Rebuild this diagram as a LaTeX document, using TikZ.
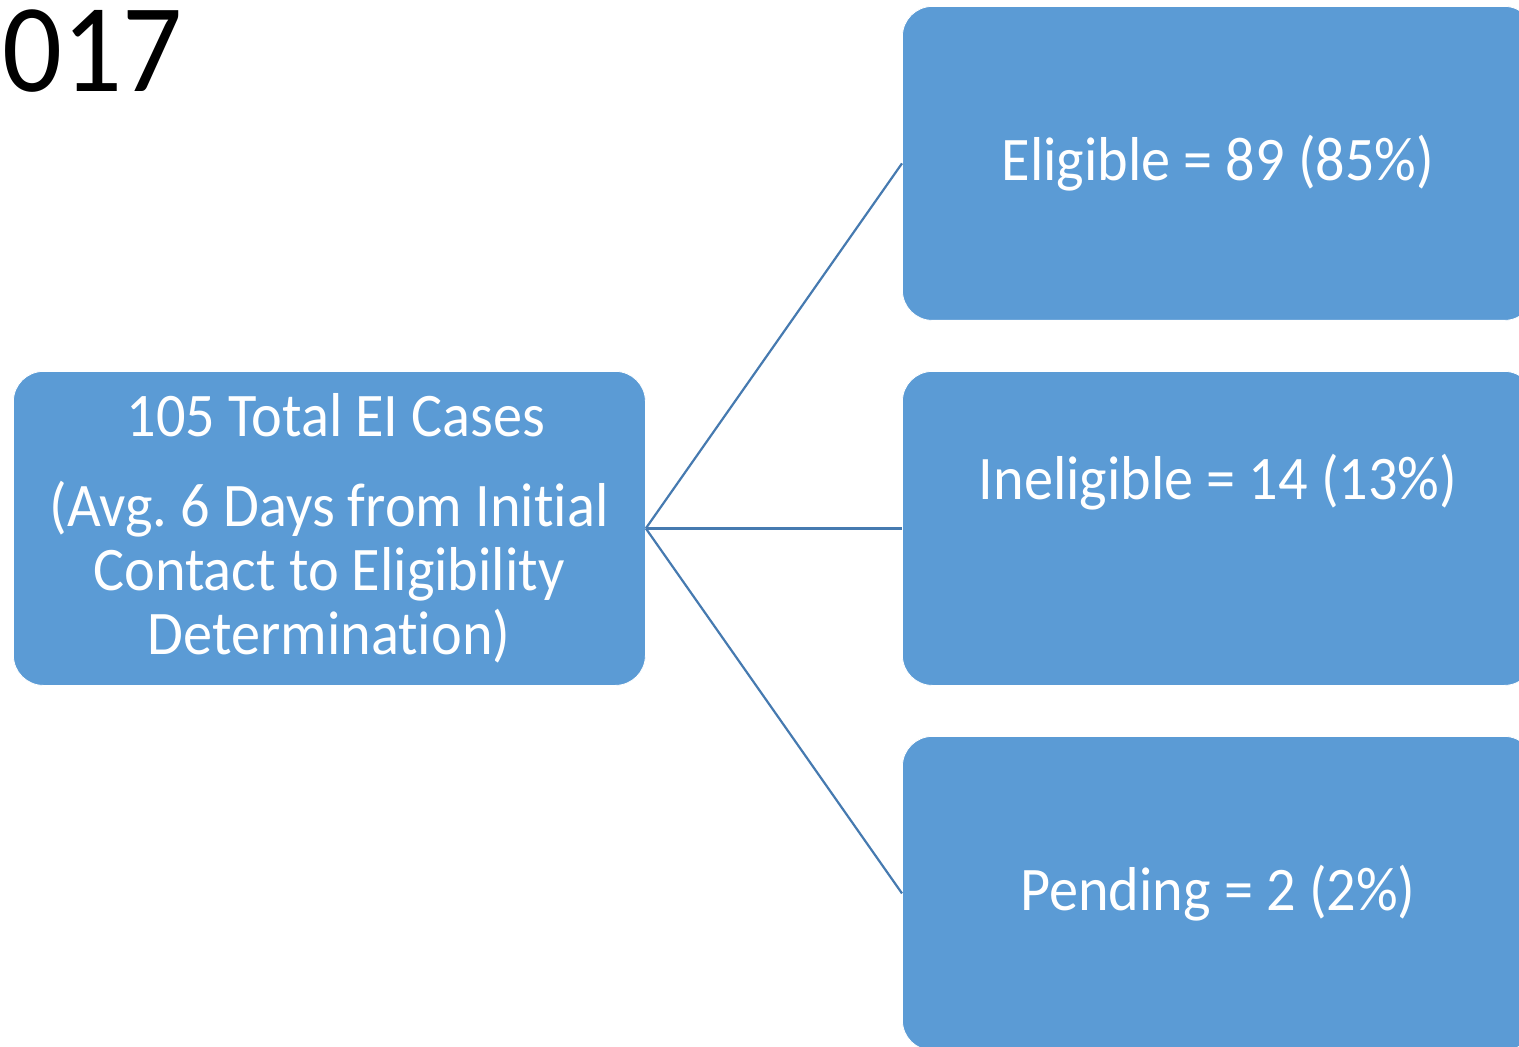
\documentclass[tikz,border=0pt]{standalone}
\usepackage{fontspec}
\setmainfont{Carlito}[FakeStretch=0.94, Ligatures=NoCommon]
\usetikzlibrary{positioning}
\definecolor{boxblue}{RGB}{91,155,213}
\definecolor{linkblue}{RGB}{70,122,176}
\tikzset{
  casebox/.style={draw=white, line width=0.4pt, fill=boxblue, rounded corners=15pt,
    minimum width=316pt, minimum height=157pt, inner sep=0pt, anchor=north west},
  boxtext/.style={text=white, font=\fontsize{31}{32}\selectfont, align=center, inner sep=0pt},
  link/.style={draw=linkblue, line width=1.1pt}
}
\begin{document}
\frenchspacing
\begin{tikzpicture}[x=0.5pt, y=-0.5pt]
  \useasboundingbox (0,0) rectangle (1519,1047);
  \node[anchor=base west, inner sep=0pt, font=\fontsize{63}{63}\selectfont] (year) at (2,92) {017};
  % boxes
  \node[casebox] (total) at (13,371) {};
  \node[casebox] (elig) at (902,6) {};
  \node[casebox] (inelig) at (902,371) {};
  \node[casebox] (pend) at (902,736) {};
  % texts
  \node[boxtext] (totaltxt) at (329,528) {\hspace*{7pt}105 Total EI Cases\\[13pt]
    (Avg. 6 Days from Initial\\ Contact to Eligibility\\ Determination)};
  \node[boxtext, anchor=base] (eligtxt) at (1218,181) {Eligible = 89 (85\%)};
  \node[boxtext, anchor=base] (ineligtxt) at (1218,500) {Ineligible = 14 (13\%)};
  \node[boxtext, anchor=base] (pendtxt) at (1218,910) {Pending = 2 (2\%)};
  % connectors
  \draw[link] (total.east) -- (elig.west);
  \draw[link] (total.east) -- (inelig.west);
  \draw[link] (total.east) -- (pend.west);
\end{tikzpicture}
\end{document}
